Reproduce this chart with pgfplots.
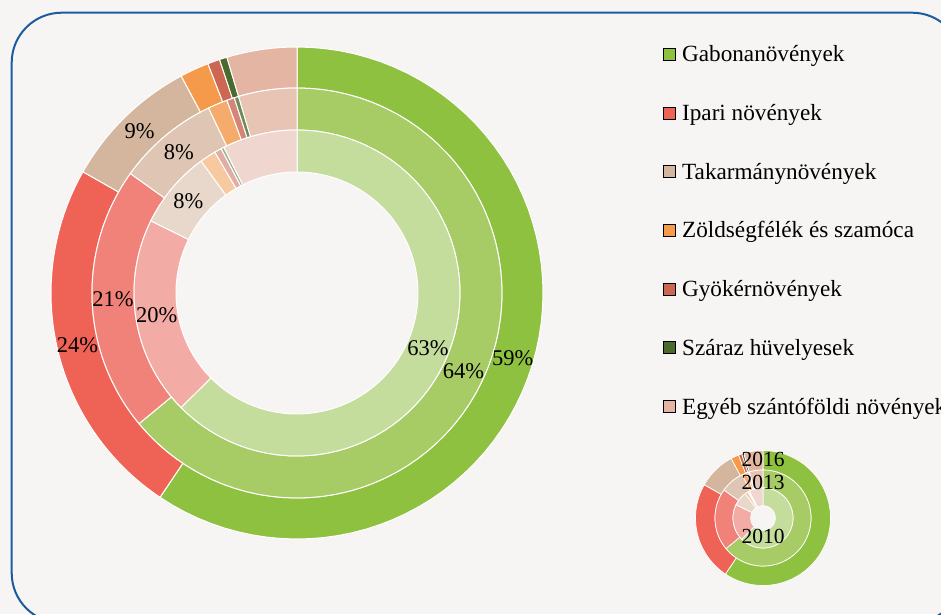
\documentclass[border=0pt]{standalone}
\usepackage{fontspec}
\setmainfont{Liberation Serif}
\usepackage{pgfplots}
\pgfplotsset{compat=1.18}
\usepackage{pgfplotstable}

\definecolor{bg}{HTML}{F7F5F3}
\definecolor{frame}{HTML}{1C5C9E}
% outer ring (2016)
\definecolor{gabona2016}{HTML}{8DC13F}
\definecolor{ipari2016}{HTML}{EF6356}
\definecolor{takarm2016}{HTML}{D4B59D}
\definecolor{zoldseg2016}{HTML}{F49A4A}
\definecolor{gyoker2016}{HTML}{CC6754}
\definecolor{szaraz2016}{HTML}{4B6B2D}
\definecolor{egyeb2016}{HTML}{E4B5A3}
% middle ring (2013)
\definecolor{gabona2013}{HTML}{A7CB65}
\definecolor{ipari2013}{HTML}{F08279}
\definecolor{takarm2013}{HTML}{DFC5B3}
\definecolor{zoldseg2013}{HTML}{F5AB6B}
\definecolor{gyoker2013}{HTML}{D48478}
\definecolor{szaraz2013}{HTML}{6F8C58}
\definecolor{egyeb2013}{HTML}{E7C4B4}
% inner ring (2010)
\definecolor{gabona2010}{HTML}{C4DC9C}
\definecolor{ipari2010}{HTML}{F3ABA5}
\definecolor{takarm2010}{HTML}{E8D8CC}
\definecolor{zoldseg2010}{HTML}{F7C9A1}
\definecolor{gyoker2010}{HTML}{E1ADA5}
\definecolor{szaraz2010}{HTML}{9DB38D}
\definecolor{egyeb2010}{HTML}{EFD6CE}

% share of each crop group, percent
\pgfplotstableread{
group   y2010 y2013 y2016
gabona  62.6  64.0  59.4
ipari   19.7  20.9  23.8
takarm   7.7   8.0   9.0
zoldseg  1.6   1.55  1.9
gyoker   0.7   0.6   0.8
szaraz   0.3   0.35  0.5
egyeb    7.4   4.6   4.6
}\shares

\newcommand\lbl{\fontsize{22.5}{27}\selectfont}

% one ring: #1 column, #2 inner r, #3 outer r, #4 colour year,
% #5/#6 centre, #7 labels (1/0), #8 white edge width
\newcommand\ring[8]{%
  \gdef\acc{0}%
  \foreach \g [count=\i from 0] in {gabona,ipari,takarm,zoldseg,gyoker,szaraz,egyeb}{%
    \pgfplotstablegetelem{\i}{#1}\of\shares
    \let\v\pgfplotsretval
    \pgfmathsetmacro\aone{3.6*\acc}%
    \pgfmathsetmacro\atwo{3.6*(\acc+\v)}%
    \pgfmathsetmacro\nacc{\acc+\v}%
    \global\let\acc\nacc
    \edef\temp{\noexpand\addplot[forget plot, fill=\g#4, draw=white, line width=#8,
      samples at={0,0.015625,...,1,1.0001,1.015625,1.03125,...,2}]
      ({#5+(x<1.00005?#3:#2)*sin(x<1.00005?\aone+(\atwo-\aone)*x:\atwo-(\atwo-\aone)*(x-1))},
       {#6+(x<1.00005?#3:#2)*cos(x<1.00005?\aone+(\atwo-\aone)*x:\atwo-(\atwo-\aone)*(x-1))}) -- cycle;}%
    \temp
    \ifnum#7=1 \ifnum\i<3
      \pgfmathsetmacro\lx{#5+0.5*(#2+#3)*sin(0.5*(\aone+\atwo))}%
      \pgfmathsetmacro\ly{#6+0.5*(#2+#3)*cos(0.5*(\aone+\atwo))}%
      \pgfmathtruncatemacro\lab{round(\v)}%
      \edef\temp{\noexpand\node[font=\noexpand\lbl] at (axis cs:\lx,\ly) {\lab\noexpand\%};}%
      \temp
    \fi\fi
  }%
}

\begin{document}
\begin{tikzpicture}
\begin{axis}[name=ax, width=941pt, height=614pt, scale only axis,
  xmin=0, xmax=941, ymin=0, ymax=614, hide axis,
  legend image code/.code={\fill[#1] (0pt,-3.8pt) rectangle (12pt,8.2pt); \path (18.5pt,0pt);},
  legend cell align=left,
  legend style={at={(0.7046,0.9256)}, anchor=north west, draw=none, fill=none,
    inner sep=0pt, row sep=37.7pt, font=\fontsize{23.2}{28}\selectfont,
    nodes={inner sep=0pt, text height=16pt, text depth=5pt}},
]
\fill[bg] (axis cs:0,0) rectangle (axis cs:941,614);
\draw[frame, line width=2pt, rounded corners=50pt] (axis cs:11.7,601.3) rectangle (axis cs:962,-9);

% main chart: 2016 outside, 2013 middle, 2010 inside
\ring{y2016}{205}{246}{2016}{297}{321}{1}{1pt}
\ring{y2013}{163}{205}{2013}{297}{321}{1}{1pt}
\ring{y2010}{121}{163}{2010}{297}{321}{1}{1pt}

% small key chart
\ring{y2016}{48}{67.5}{2016}{763}{96}{0}{0.7pt}
\ring{y2013}{30}{48}{2013}{763}{96}{0}{0.7pt}
\ring{y2010}{12.3}{30}{2010}{763}{96}{0}{0.7pt}
\node[font=\fontsize{21.5}{26}\selectfont] at (axis cs:763,154.7) {2016};
\node[font=\fontsize{21.5}{26}\selectfont] at (axis cs:763,131.3) {2013};
\node[font=\fontsize{21.5}{26}\selectfont] at (axis cs:763,78) {2010};

\addlegendimage{fill=gabona2016}
\addlegendentry{Gabonanövények}
\addlegendimage{fill=ipari2016}
\addlegendentry{Ipari növények}
\addlegendimage{fill=takarm2016}
\addlegendentry{Takarmánynövények}
\addlegendimage{fill=zoldseg2016}
\addlegendentry{Zöldségfélék és szamóca}
\addlegendimage{fill=gyoker2016}
\addlegendentry{Gyökérnövények}
\addlegendimage{fill=szaraz2016}
\addlegendentry{Száraz hüvelyesek}
\addlegendimage{fill=egyeb2016}
\addlegendentry{Egyéb szántóföldi növények}
\end{axis}
\pgfresetboundingbox
\path (ax.south west) rectangle (ax.north east);
\end{tikzpicture}
\end{document}
